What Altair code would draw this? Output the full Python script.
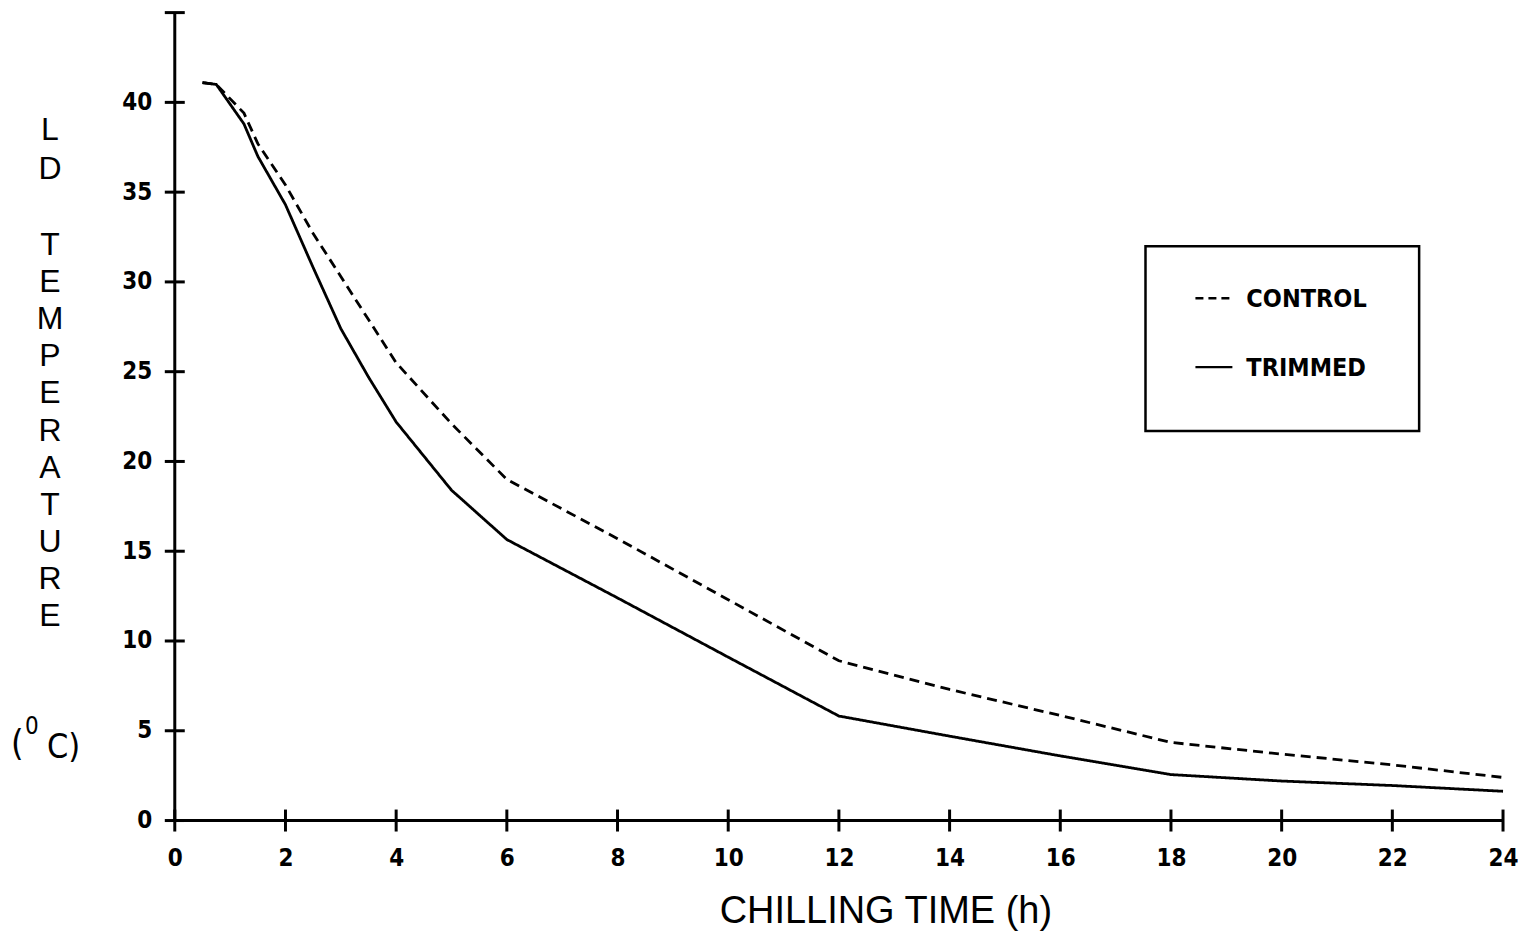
import altair as alt
import pandas as pd

# ---- data ----
hours = [0.5, 0.75, 1.25, 1.5, 2, 2.5, 3, 3.5, 4, 5, 6, 8, 10, 12, 14, 16, 18, 20, 22, 24]
control = [41.1, 41.0, 39.4, 37.7, 35.4, 32.7, 30.3, 27.9, 25.5, 22.1, 19.0, 15.7, 12.3, 8.9, 7.3, 5.85, 4.35, 3.7, 3.1, 2.4]
trimmed = [41.1, 41.0, 38.8, 37.0, 34.3, 30.8, 27.4, 24.7, 22.2, 18.4, 15.65, 12.4, 9.1, 5.82, 4.7, 3.6, 2.56, 2.2, 1.95, 1.63]
series_names = ["CONTROL", "TRIMMED"]
x_ticks = list(range(0, 25, 2))
y_ticks = list(range(0, 46, 5))
y_tick_labels = list(range(0, 41, 5))

W, H = 1330, 809
LABEL_FONT = "DejaVu Sans Condensed"
TITLE_FONT = "Liberation Sans"

rows = []
for h, c, t in zip(hours, control, trimmed):
    rows.append({"h": h, "v": c, "s": series_names[0]})
    rows.append({"h": h, "v": t, "s": series_names[1]})
df = pd.DataFrame(rows)

xs = alt.Scale(domain=[0, 24], nice=False, zero=False)
ys = alt.Scale(domain=[0, 45], nice=False, zero=False)

x_axis = alt.Axis(values=x_ticks, domain=False, ticks=False, grid=False, title=None,
                  labelFont=LABEL_FONT, labelFontWeight="bold", labelFontSize=24,
                  labelColor="black", labelPadding=26, labelFlush=False, labelOverlap=False)
y_axis = alt.Axis(values=y_tick_labels, domain=False, ticks=False, grid=False, title=None,
                  labelFont=LABEL_FONT, labelFontWeight="bold", labelFontSize=24,
                  labelColor="black", labelPadding=23, labelOverlap=False)

lines = alt.Chart(df).mark_line(strokeWidth=2.8, color="black").encode(
    x=alt.X("h:Q", scale=xs, axis=x_axis),
    y=alt.Y("v:Q", scale=ys, axis=y_axis),
    strokeDash=alt.StrokeDash("s:N", scale=alt.Scale(domain=series_names, range=[[10, 6], [1, 0]]), legend=None),
    detail="s:N",
)

# axis lines
y_line = alt.Chart(pd.DataFrame({"a": [0]})).mark_rule(strokeWidth=3, color="black").encode(
    x=alt.value(0), y=alt.value(0), y2=alt.value(H))
x_line = alt.Chart(pd.DataFrame({"a": [0]})).mark_rule(strokeWidth=3, color="black").encode(
    x=alt.value(0), x2=alt.value(W), y=alt.value(H))

# crossing tick marks
y_tick_marks = alt.Chart(pd.DataFrame({"t": y_ticks})).mark_rule(strokeWidth=3, color="black").encode(
    y=alt.Y("t:Q", scale=ys, axis=y_axis), x=alt.value(-10), x2=alt.value(10))
x_tick_marks = alt.Chart(pd.DataFrame({"t": x_ticks})).mark_rule(strokeWidth=3, color="black").encode(
    x=alt.X("t:Q", scale=xs, axis=x_axis), y=alt.value(H - 11), y2=alt.value(H + 11))

# axis titles
x_title = alt.Chart(pd.DataFrame({"a": [0]})).mark_text(
    text="CHILLING TIME (h)", font=TITLE_FONT, fontSize=38,
    align="center", baseline="alphabetic", color="black").encode(
    x=alt.value(712), y=alt.value(912))

y_title1 = alt.Chart(pd.DataFrame({"a": [0]})).mark_text(
    text=["L", "D"], lineHeight=39,
    font=TITLE_FONT, fontSize=32, align="center", baseline="top", color="black").encode(
    x=alt.value(-125), y=alt.value(103))
y_title2 = alt.Chart(pd.DataFrame({"a": [0]})).mark_text(
    text=["T", "E", "M", "P", "E", "R", "A", "T", "U", "R", "E"], lineHeight=37.1,
    font=TITLE_FONT, fontSize=32, align="center", baseline="top", color="black").encode(
    x=alt.value(-125), y=alt.value(218))

unit_open = alt.Chart(pd.DataFrame({"a": [0]})).mark_text(
    text="(", font=LABEL_FONT, fontSize=36, align="left", baseline="alphabetic", color="black").encode(
    x=alt.value(-164), y=alt.value(743))
unit_zero = alt.Chart(pd.DataFrame({"a": [0]})).mark_text(
    text="0", font=LABEL_FONT, fontSize=24, align="left", baseline="alphabetic", color="black").encode(
    x=alt.value(-150), y=alt.value(722))
unit_c = alt.Chart(pd.DataFrame({"a": [0]})).mark_text(
    text="C)", font=LABEL_FONT, fontSize=34, align="left", baseline="alphabetic", color="black").encode(
    x=alt.value(-128), y=alt.value(746))

# legend box
leg_box = alt.Chart(pd.DataFrame({"a": [0]})).mark_rect(
    fill="white", stroke="black", strokeWidth=2.5).encode(
    x=alt.value(972), x2=alt.value(1246), y=alt.value(234), y2=alt.value(419))
leg_dash = alt.Chart(pd.DataFrame({"a": [0]})).mark_rule(
    strokeWidth=2.4, color="black", strokeDash=[8, 5]).encode(
    x=alt.value(1022), x2=alt.value(1059), y=alt.value(286))
leg_solid = alt.Chart(pd.DataFrame({"a": [0]})).mark_rule(
    strokeWidth=2.4, color="black").encode(
    x=alt.value(1022), x2=alt.value(1059), y=alt.value(355))
leg_t1 = alt.Chart(pd.DataFrame({"a": [0]})).mark_text(
    text=series_names[0], font=LABEL_FONT, fontWeight="bold", fontSize=25,
    align="left", baseline="middle", color="black").encode(x=alt.value(1073), y=alt.value(287))
leg_t2 = alt.Chart(pd.DataFrame({"a": [0]})).mark_text(
    text=series_names[1], font=LABEL_FONT, fontWeight="bold", fontSize=25,
    align="left", baseline="middle", color="black").encode(x=alt.value(1073), y=alt.value(356))

chart = alt.layer(
    lines, y_line, x_line, y_tick_marks, x_tick_marks, x_title, y_title1, y_title2,
    unit_open, unit_zero, unit_c, leg_box, leg_dash, leg_solid, leg_t1, leg_t2
).properties(
    width=W, height=H,
    background="white",
    autosize=alt.AutoSizeParams(type="none"),
    padding={"left": 167, "top": 4, "right": 20, "bottom": 110},
).configure_view(strokeWidth=0, stroke="transparent")

chart.save("out.html", embed_options={"renderer": "svg", "actions": False})
